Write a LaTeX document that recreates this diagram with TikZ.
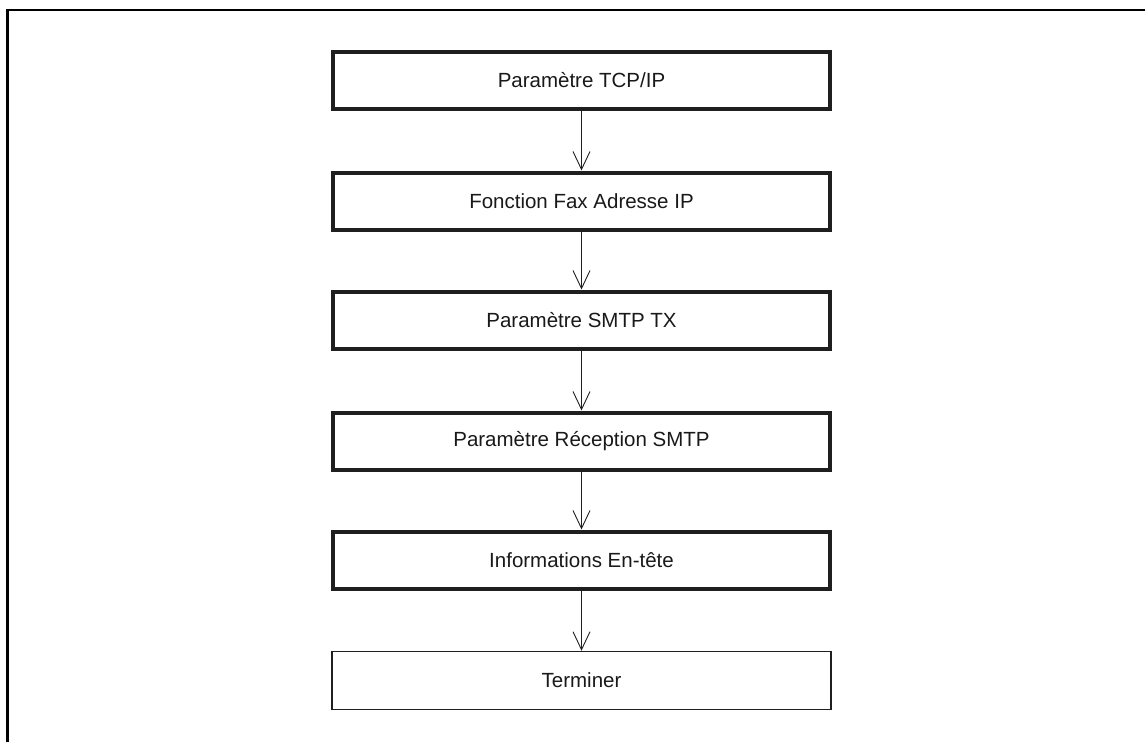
\documentclass[tikz,border=0pt]{standalone}
\usepackage{fontspec}
\setmainfont{Liberation Sans}
\usetikzlibrary{arrows.meta}

\begin{document}
\begin{tikzpicture}[x=1pt,y=-1pt,line cap=butt,line join=miter,
  stepbox/.style={draw=black!88,line width=4pt,minimum width=497pt,minimum height=57pt,
    inner sep=0pt,font=\fontsize{20.5}{24}\selectfont,text=black!90},
  endbox/.style={stepbox,line width=1.5pt,minimum width=499pt,minimum height=58pt},
  flow/.style={line width=0.9pt,draw=black!88,-{Straight Barb[length=18pt,width=17pt,line width=0.9pt]}}]
% page frame: only top and left edges shown
\useasboundingbox (0,0) rectangle (1145,742);
\draw[line width=2.5pt] (7.5,742) -- (7.5,10) -- (1145,10);

% steps of the setup sequence
\node[stepbox] (tcpip)  at (581.5,80)    {Paramètre TCP/IP};
\node[stepbox] (faxip)  at (581.5,201)   {Fonction Fax Adresse IP};
\node[stepbox] (smtptx) at (581.5,320)   {Paramètre SMTP TX};
\node[stepbox] (smtprx) at (581.5,441)   {Paramètre Réception SMTP};
\node[stepbox] (entete) at (581.5,560)   {Informations En-tête};
\node[endbox]  (fin)    at (581.5,680.5) {Terminer};

% connectors
\draw[flow] (tcpip)  -- (faxip);
\draw[flow] (faxip)  -- (smtptx);
\draw[flow] (smtptx) -- (smtprx);
\draw[flow] (smtprx) -- (entete);
\draw[flow] (entete) -- (fin);

\end{tikzpicture}
\end{document}
